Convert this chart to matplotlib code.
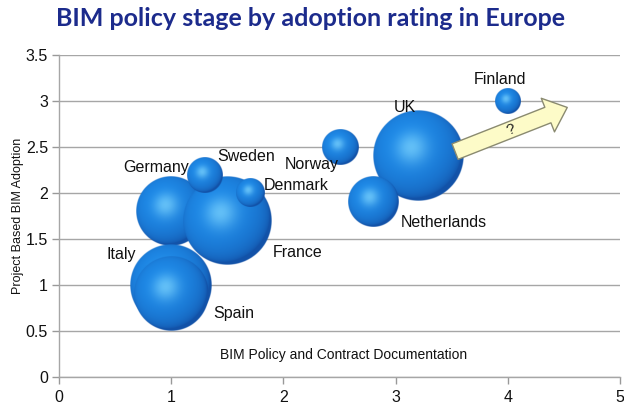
import numpy as np
import matplotlib
matplotlib.use("Agg")
import matplotlib.pyplot as plt
from matplotlib.patches import FancyArrowPatch, ArrowStyle

# countries in drawing order (later ones sit on top)
countries = ["UK", "Germany", "France", "Italy", "Spain", "Netherlands",
             "Norway", "Sweden", "Denmark", "Finland"]
policy = [3.2, 1.0, 1.5, 1.0, 1.0, 2.8, 2.5, 1.3, 1.7, 4.0]
adoption = [2.4, 1.8, 1.7, 1.0, 0.9, 1.9, 2.5, 2.2, 2.0, 3.0]
bubble_size = [10.0, 6.0, 9.6, 8.3, 6.8, 3.1, 1.6, 1.6, 1.0, 0.8]

x_ticks = [0, 1, 2, 3, 4, 5]
y_ticks = [0, 0.5, 1, 1.5, 2, 2.5, 3, 3.5]

arrow_from = (3.53, 2.45)
arrow_to = (4.53, 2.93)

# label offsets from bubble centre, in pixels
label_offset = {
    "Finland": (-8, 21), "UK": (-13, 49), "Norway": (-28, -17),
    "Netherlands": (71, -20), "Germany": (-15, 44), "Sweden": (41, 18),
    "Denmark": (46, 7), "France": (70, -32), "Italy": (-50, 30),
    "Spain": (63, -19),
}

MAX_RADIUS_PX = 45.0
FONT = "Liberation Sans"


def sphere_rgba(n=240):
    """Shaded blue ball as an RGBA array (row 0 at the bottom)."""
    u = np.linspace(-1, 1, n)
    uu, vv = np.meshgrid(u, u)
    rho = np.sqrt(uu ** 2 + vv ** 2)
    nz = np.sqrt(np.clip(1 - rho ** 2, 0, 1))
    light = np.array([-0.3, 0.35, 0.89])
    light = light / np.linalg.norm(light)
    diff = np.clip(uu * light[0] + vv * light[1] + nz * light[2], 0, 1)
    half = light + np.array([0, 0, 1.0])
    half = half / np.linalg.norm(half)
    spec = np.clip(uu * half[0] + vv * half[1] + nz * half[2], 0, 1) ** 16

    dark = np.array([18, 82, 168]) / 255.0
    mid = np.array([30, 138, 232]) / 255.0
    hi = np.array([115, 205, 252]) / 255.0
    d = diff[..., None] ** 0.6
    rgb = dark * (1 - d) + mid * d
    rgb = rgb + (hi - mid) * (0.8 * spec[..., None])
    rgb = np.clip(rgb, 0, 1)
    alpha = np.clip((1 - rho) * n / 2.0, 0, 1)
    return np.dstack([rgb, alpha])


fig = plt.figure(figsize=(6.24, 4.07), dpi=100)
ax = fig.add_axes([59 / 624, 30 / 407, 561 / 624, 322 / 407])
ax.set_xlim(0, 5)
ax.set_ylim(0, 3.5)
ax.set_autoscale_on(False)

# pixels per data unit, used to keep the balls round
p0 = ax.transData.transform((0, 0))
p1 = ax.transData.transform((1, 1))
ppx, ppy = p1[0] - p0[0], p1[1] - p0[1]

ball = sphere_rgba()
s_max = max(bubble_size)
for i, (name, bx, by, s) in enumerate(zip(countries, policy, adoption, bubble_size)):
    r = MAX_RADIUS_PX * np.sqrt(s / s_max)
    rx, ry = r / ppx, r / ppy
    ax.imshow(ball, extent=[bx - rx, bx + rx, by - ry, by + ry], origin="lower",
              aspect="auto", interpolation="bilinear", zorder=3 + i)
    ox, oy = label_offset[name]
    ax.annotate(name, (bx, by), xytext=(ox, oy), textcoords="offset pixels",
                ha="center", va="center", fontsize=11.5, family=FONT,
                color="#111111", zorder=20)

# the "what next?" arrow past the UK
arr = FancyArrowPatch(arrow_from, arrow_to,
                      arrowstyle=ArrowStyle.Simple(head_length=15, head_width=26,
                                                   tail_width=12),
                      mutation_scale=1, shrinkA=0, shrinkB=0,
                      facecolor="#FDFBC8", edgecolor="#8A8A70", linewidth=1.0,
                      zorder=15)
ax.add_patch(arr)
ang = np.degrees(np.arctan2((arrow_to[1] - arrow_from[1]) * ppy,
                            (arrow_to[0] - arrow_from[0]) * ppx))
ax.text((arrow_from[0] + arrow_to[0]) / 2, (arrow_from[1] + arrow_to[1]) / 2, "?",
        rotation=ang, ha="center", va="center", fontsize=11, family=FONT,
        color="#222222", zorder=16)

# axes styling
ax.set_xticks(x_ticks)
ax.set_yticks(y_ticks)
ax.set_yticklabels(["0", "0.5", "1", "1.5", "2", "2.5", "3", "3.5"])
ax.tick_params(axis="both", labelsize=11.5, colors="#999999", labelcolor="#111111",
               length=5, width=1)
ax.tick_params(axis="x", pad=4)
ax.tick_params(axis="y", pad=3)
for lbl in ax.get_xticklabels() + ax.get_yticklabels():
    lbl.set_family(FONT)
ax.grid(axis="y", color="#A6A6A6", linewidth=1.0, zorder=0)
ax.set_axisbelow(True)
for side in ("top", "right"):
    ax.spines[side].set_visible(False)
for side in ("left", "bottom"):
    ax.spines[side].set_color("#A6A6A6")
    ax.spines[side].set_linewidth(1.0)

ax.text(0.508, 0.068, "BIM Policy and Contract Documentation", transform=ax.transAxes,
        ha="center", va="center", fontsize=10, family=FONT, color="#111111")
fig.text(18 / 624, 1 - 216 / 407, "Project Based BIM Adoption", rotation=90,
         ha="center", va="center", fontsize=9, family=FONT, color="#111111")

fig.text(0.497, 0.955, "BIM policy stage by adoption rating in Europe",
         ha="center", va="center", fontsize=18, fontweight="bold",
         family="Lato", color="#1C2B8C")

fig.savefig("out.png", dpi=100)
